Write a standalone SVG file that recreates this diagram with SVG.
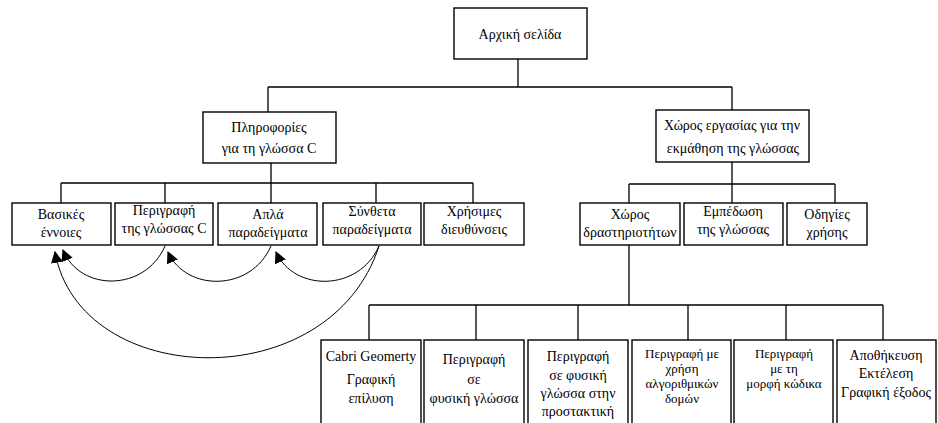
<svg xmlns="http://www.w3.org/2000/svg" width="938" height="423" viewBox="0 0 938 423">
<style>
.box{fill:#fff;stroke:#000;stroke-width:1.4}
.ln{fill:none;stroke:#000;stroke-width:1.3}
.arc{fill:none;stroke:#000;stroke-width:1}
text{font-family:"Liberation Serif","Times New Roman",serif;font-size:14px;fill:#000;text-anchor:middle}
.sm{font-size:13px}
</style>
<defs>
<marker id="ah" viewBox="0 0 10 10" refX="9" refY="5" markerWidth="12" markerHeight="12" markerUnits="userSpaceOnUse" orient="auto">
<path d="M0,0 L10,5 L0,10 Z" fill="#000"/>
</marker>
</defs>
<rect width="938" height="423" fill="#fff"/>
<g id="connectors">
<path class="ln" d="M518,59 V87 M268,87 H732 M268,87 V112 M732,87 V110"/>
<path class="ln" d="M271,163 V183 M61,183 H473 M61,183 V203 M165,183 V203 M271,183 V203 M376,183 V203 M473,183 V203"/>
<path class="ln" d="M732,162 V184 M629,184 H835 M629,184 V203 M732,184 V203 M835,184 V203"/>
<path class="ln" d="M629,245 V305 M369,305 H883 M369,305 V340 M476,305 V340 M578,305 V340 M688,305 V340 M786,305 V340 M883,305 V340"/>
<path class="arc" d="M165,246 C145,292 80,292 63,250" marker-end="url(#ah)"/>
<path class="arc" d="M271,246 C251,292 186,292 168,252" marker-end="url(#ah)"/>
<path class="arc" d="M379,246 C359,292 294,292 276,252" marker-end="url(#ah)"/>
<path class="arc" d="M379,246 C330,398 80,390 55,252" marker-end="url(#ah)"/>
</g>
<g id="n-home"><rect class="box" x="454" y="8" width="133" height="51"/><text x="520" y="39">Αρχική σελίδα</text></g>
<g id="n-info"><rect class="box" x="203" y="112" width="133" height="51"/><text x="269" y="132">Πληροφορίες</text><text x="269" y="153">για τη γλώσσα C</text></g>
<g id="n-work"><rect class="box" x="656" y="110" width="153" height="52"/><text x="732" y="130">Χώρος εργασίας για την</text><text x="733" y="153">εκμάθηση της γλώσσας</text></g>
<g id="n-basic"><rect class="box" x="12" y="203" width="99" height="42"/><text x="61" y="219">Βασικές</text><text x="61" y="237">έννοιες</text></g>
<g id="n-desc"><rect class="box" x="115" y="203" width="98" height="42"/><text x="164" y="215">Περιγραφή</text><text x="164" y="233">της γλώσσας C</text></g>
<g id="n-simple"><rect class="box" x="218" y="203" width="99" height="42"/><text x="268" y="219">Απλά</text><text x="268" y="237">παραδείγματα</text></g>
<g id="n-complex"><rect class="box" x="323" y="203" width="98" height="42"/><text x="372" y="216">Σύνθετα</text><text x="372" y="234">παραδείγματα</text></g>
<g id="n-links"><rect class="box" x="424" y="203" width="100" height="42"/><text x="474" y="216">Χρήσιμες</text><text x="474" y="234">διευθύνσεις</text></g>
<g id="n-activity"><rect class="box" x="580" y="203" width="100" height="42"/><text x="630" y="219">Χώρος</text><text x="630" y="237">δραστηριοτήτων</text></g>
<g id="n-practice"><rect class="box" x="684" y="203" width="99" height="42"/><text x="733" y="216">Εμπέδωση</text><text x="733" y="234">της γλώσσας</text></g>
<g id="n-guide"><rect class="box" x="787" y="203" width="80" height="42"/><text x="827" y="219">Οδηγίες</text><text x="827" y="237">χρήσης</text></g>
<g id="n-cabri"><rect class="box" x="321" y="340" width="100" height="95"/><text x="371" y="361">Cabri Geomerty</text><text x="371" y="384">Γραφική</text><text x="371" y="403">επίλυση</text></g>
<g id="n-natural"><rect class="box" x="424" y="340" width="100" height="95"/><text x="474" y="364">Περιγραφή</text><text x="474" y="384">σε</text><text x="474" y="403">φυσική γλώσσα</text></g>
<g id="n-imperative"><rect class="box" x="528" y="340" width="100" height="95"/><text x="578" y="361">Περιγραφή</text><text x="578" y="380">σε φυσική</text><text x="578" y="398">γλώσσα στην</text><text x="578" y="416">προστακτική</text></g>
<g id="n-algo"><rect class="box" x="632" y="340" width="99" height="95"/><text class="sm" x="682" y="358">Περιγραφή με</text><text class="sm" x="682" y="373">χρήση</text><text class="sm" x="682" y="388">αλγοριθμικών</text><text class="sm" x="682" y="403">δομών</text></g>
<g id="n-code"><rect class="box" x="734" y="340" width="99" height="95"/><text class="sm" x="784" y="358">Περιγραφή</text><text class="sm" x="784" y="373">με τη</text><text class="sm" x="784" y="388">μορφή κώδικα</text></g>
<g id="n-run"><rect class="box" x="837" y="340" width="99" height="95"/><text x="886" y="360">Αποθήκευση</text><text x="886" y="378">Εκτέλεση</text><text x="886" y="397">Γραφική έξοδος</text></g>
</svg>
